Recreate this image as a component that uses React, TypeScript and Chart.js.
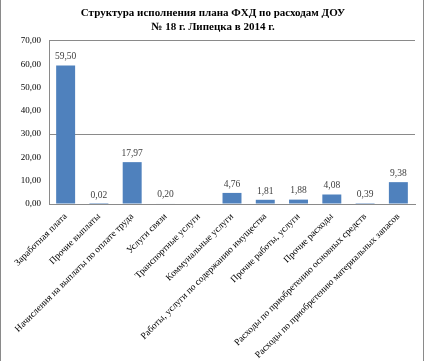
import React, { useEffect, useRef } from "react";
import { Chart, registerables } from "chart.js";

Chart.register(...registerables);

const categories: string[] = [
  "Заработная плата",
  "Прочие выплаты",
  "Начисления на выплаты по оплате труда",
  "Услуги связи",
  "Транспортные услуги",
  "Коммунальные услуги",
  "Работы, услуги по содержанию имущества",
  "Прочие работы, услуги",
  "Прочие расходы",
  "Расходы по приобретению основных средств",
  "Расходы по приобретению материальных запасов",
];

const values: (number | null)[] = [59.5, 0.02, 17.97, 0.2, null, 4.76, 1.81, 1.88, 4.08, 0.39, 9.38];

const titleLines: string[] = [
  "Структура исполнения плана ФХД по расходам ДОУ",
  "№ 18 г. Липецка в 2014 г.",
];

const gridValues: number[] = [30, 70];

const fmt = (v: number) => v.toFixed(2).replace(".", ",");

const SERIF = "'Liberation Serif', 'Times New Roman', serif";

const framePlugin = {
  id: "frame",
  beforeDraw(chart: any) {
    const ctx = chart.ctx;
    ctx.save();
    ctx.fillStyle = "#ffffff";
    ctx.fillRect(0, 0, chart.width, chart.height);
    ctx.fillStyle = "#8a8a8a";
    ctx.fillRect(0, 0, 1, chart.height);
    ctx.fillRect(423, 0, 1, chart.height);
    ctx.restore();
  },
};

const labelPlugin = {
  id: "barLabels",
  afterDatasetsDraw(chart: any) {
    const ctx = chart.ctx;
    const meta = chart.getDatasetMeta(0);
    ctx.save();
    ctx.font = `9.5px ${SERIF}`;
    ctx.fillStyle = "#404040";
    ctx.textAlign = "center";
    ctx.textBaseline = "bottom";
    meta.data.forEach((el: any, i: number) => {
      const v = values[i];
      if (v === null || v === undefined) return;
      ctx.fillText(fmt(v), el.x, el.y - 4);
    });
    ctx.restore();
  },
};

export default function App() {
  const ref = useRef<HTMLCanvasElement | null>(null);

  useEffect(() => {
    if (!ref.current) return;
    const chart = new Chart(ref.current, {
      type: "bar",
      data: {
        labels: categories,
        datasets: [
          {
            data: values,
            backgroundColor: "#4f81bd",
            borderWidth: 0,
            barPercentage: 0.57,
            categoryPercentage: 1,
          },
        ],
      },
      options: {
        animation: false,
        responsive: false,
        maintainAspectRatio: false,
        layout: { padding: { left: 1, right: 0, top: 0, bottom: 0 } },
        plugins: {
          legend: { display: false },
          tooltip: { enabled: false },
          title: {
            display: true,
            text: titleLines,
            color: "#000000",
            font: { family: SERIF, size: 11, weight: "bold", lineHeight: 1.27 },
            padding: { top: 6, bottom: 7 },
          },
        },
        scales: {
          x: {
            grid: { display: true, color: "rgba(0,0,0,0)", drawTicks: false },
            border: { display: true, color: "#8a8a8a", width: 1 },
            ticks: {
              autoSkip: false,
              minRotation: 45,
              maxRotation: 45,
              padding: 7,
              color: "#000000",
              font: { family: SERIF, size: 9.5 },
            },
            afterFit: (s: any) => {
              s.height = 157;
              s.paddingRight = 10;
              s.paddingLeft = 0;
            },
          },
          y: {
            min: 0,
            max: 70,
            ticks: {
              stepSize: 10,
              padding: 8,
              color: "#000000",
              font: { family: SERIF, size: 9 },
              callback: (v: any) => fmt(Number(v)),
            },
            grid: {
              drawTicks: false,
              color: (c: any) =>
                c.tick && gridValues.includes(c.tick.value) ? "#8a8a8a" : "rgba(0,0,0,0)",
            },
            border: { display: true, color: "#8a8a8a", width: 1 },
            afterFit: (s: any) => {
              s.width = 48;
            },
          },
        },
      },
      plugins: [framePlugin, labelPlugin],
    });
    return () => chart.destroy();
  }, []);

  return (
    <div style={{ position: "fixed", left: 0, top: 0, width: 425, height: 361, background: "#fff" }}>
      <canvas ref={ref} width={425} height={361} style={{ display: "block", width: 425, height: 361 }} />
    </div>
  );
}
